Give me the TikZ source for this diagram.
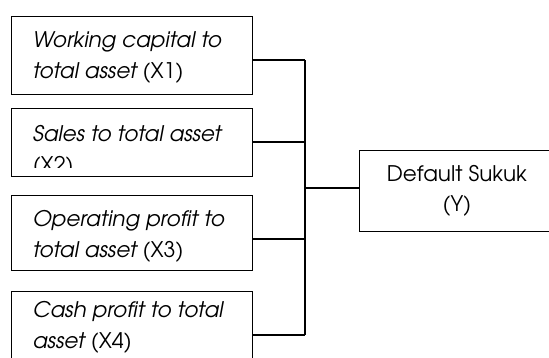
\documentclass[tikz,border=0pt]{standalone}
\usepackage{fontspec}
\setmainfont{texgyreadventor}[Extension=.otf,UprightFont=*-regular,
  ItalicFont=*-italic,BoldFont=*-bold]
\usetikzlibrary{positioning}

\tikzset{
  factor/.style={draw,line width=0.8pt,minimum width=241pt,inner sep=0pt},
  factortext/.style={anchor=north west,inner sep=0pt,align=left,
    font=\fontsize{21.5}{31}\selectfont},
  link/.style={line width=1.1pt}
}

\begin{document}
\begin{tikzpicture}[x=1pt,y=-1pt]
        \useasboundingbox (0,0) rectangle (549,358) ;
        \clip (0,0) rectangle (549,358) ;
        % left boxes
        \node[factor,minimum height=78pt] (wc) at (131.5,55) {} ;
        \node[factor,minimum height=68pt] (sa) at (131.5,142) {} ;
        \node[factor,minimum height=75pt] (op) at (131.5,232.5) {} ;
        \node[factor,minimum height=88pt] (cp) at (131.5,335) {} ;
        \node[factortext] (wctext) at ([xshift=22pt,yshift=-16pt]wc.north west)
          {\itshape Working capital to\\\itshape total asset \upshape(X1)} ;
        \begin{scope}
          \clip ([xshift=1pt,yshift=-1pt]sa.north west) rectangle ([yshift=9pt]sa.south east) ;
          \node[factortext] (satext) at ([xshift=22pt,yshift=-18pt]sa.north west)
            {\itshape Sales to total asset\\(X2)} ;
        \end{scope}
        \node[factortext] (optext) at ([xshift=22pt,yshift=-16pt]op.north west)
          {\itshape Operating profit to\\\itshape total asset \upshape(X3)} ;
        \node[factortext] (cptext) at ([xshift=22pt,yshift=-11pt]cp.north west)
          {\itshape Cash profit to total\\\itshape asset \upshape(X4)} ;
        % right box
        \node[factor,minimum width=196pt,minimum height=81pt,align=center,
          font=\fontsize{21.5}{30}\selectfont] (ds) at (457,190.5) {Default Sukuk\\(Y)} ;
        % connectors
        \coordinate (bustop) at (305,60) ;
        \coordinate (busbot) at (305,335) ;
        \draw[link] (bustop) -- (busbot) ;
        \draw[link] ([yshift=-5pt]wc.east) -- ([yshift=-5pt]wc.east -| bustop) ;
        \draw[link] (sa.east) -- (sa.east -| bustop) ;
        \draw[link] ([yshift=-6.5pt]op.east) -- ([yshift=-6.5pt]op.east -| bustop) ;
        \draw[link] (cp.east) -- (cp.east -| bustop) ;
        \draw[link] ([yshift=2.5pt]ds.west -| bustop) -- ([yshift=2.5pt]ds.west) ;
\end{tikzpicture}
\end{document}
